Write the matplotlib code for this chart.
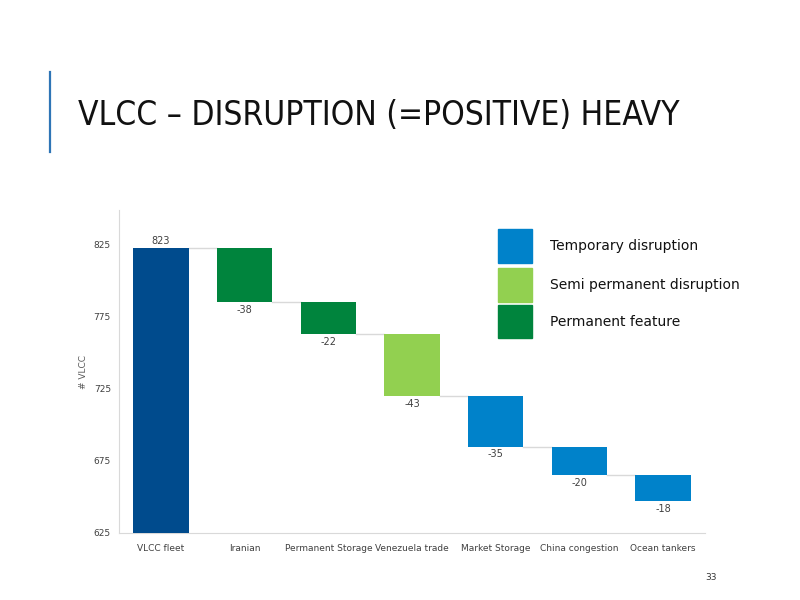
import matplotlib.pyplot as plt
from matplotlib.patches import Rectangle

# Waterfall data
categories = ['VLCC fleet', 'Iranian', 'Permanent Storage', 'Venezuela trade',
              'Market Storage', 'China congestion', 'Ocean tankers']
start_value = 823
deltas = [-38, -22, -43, -35, -20, -18]
kinds = ['fleet', 'permanent', 'permanent', 'semi', 'temporary', 'temporary', 'temporary']

legend_labels = ['Temporary disruption', 'Semi permanent disruption', 'Permanent feature']
legend_kinds = ['temporary', 'semi', 'permanent']

colors = {
    'fleet': '#004B8D',
    'permanent': '#00843D',
    'semi': '#92D050',
    'temporary': '#0082CA',
}

y_ticks = [625, 675, 725, 775, 825]


def main():
    fig = plt.figure(figsize=(8, 6), dpi=100)
    fig.patch.set_facecolor('white')

    # Slide title with accent bar
    fig.add_artist(plt.Line2D([0.0625, 0.0625], [0.747, 0.880], color='#2E75B6', lw=1.6))
    fig.text(0.097, 0.808, 'VLCC \u2013 DISRUPTION (=POSITIVE) HEAVY',
             fontsize=24, family='Liberation Sans Narrow', fontstretch='condensed',
             color='#111111', va='center', ha='left')
    fig.text(0.889, 0.037, '33', fontsize=6.5, color='#333333', ha='center', va='center')

    ax = fig.add_axes([0.149, 0.1117, 0.732, 0.538])

    bar_w = 0.66
    bottoms = [625]
    heights = [start_value - 625]
    level = start_value
    levels = [start_value]
    for d in deltas:
        new_level = level + d
        bottoms.append(new_level)
        heights.append(-d)
        level = new_level
        levels.append(level)

    x = list(range(len(categories)))
    ax.bar(x, heights, bottom=bottoms, width=bar_w,
           color=[colors[k] for k in kinds], zorder=3)

    # Connector lines
    prev_top = start_value
    for i in range(1, len(x)):
        ax.plot([x[i - 1] + bar_w / 2, x[i] - bar_w / 2], [prev_top, prev_top],
                color='#D9D9D9', lw=1, zorder=2)
        prev_top = levels[i]

    # Value labels
    ax.text(x[0], start_value + 1, str(start_value), ha='center', va='bottom',
            fontsize=7, color='#404040')
    for i, d in enumerate(deltas, start=1):
        ax.text(x[i], bottoms[i] - 2, str(d), ha='center', va='top',
                fontsize=7, color='#404040')

    ax.set_xlim(-0.5, len(categories) - 0.5)
    ax.set_ylim(625, 849)
    ax.set_yticks(y_ticks)
    ax.set_xticks(x)
    ax.set_xticklabels(categories)
    ax.tick_params(axis='both', length=0, labelsize=6.5, labelcolor='#404040')
    ax.tick_params(axis='x', pad=8)
    ax.tick_params(axis='y', pad=6)
    ax.set_ylabel('# VLCC', fontsize=6.5, color='#595959', labelpad=4)

    for side in ['top', 'right']:
        ax.spines[side].set_visible(False)
    ax.spines['left'].set_color('#D9D9D9')
    ax.spines['bottom'].set_color('#D9D9D9')

    # Legend as colour squares
    sq_x, sq_w, sq_h = 0.6225, 0.0425, 0.056
    sq_tops = [0.618, 0.553, 0.492]
    for top, label, kind in zip(sq_tops, legend_labels, legend_kinds):
        fig.add_artist(Rectangle((sq_x, top - sq_h), sq_w, sq_h,
                                 transform=fig.transFigure, color=colors[kind]))
        fig.text(0.688, top - sq_h / 2, label, fontsize=10, color='#111111',
                 va='center', ha='left')

    fig.savefig('out.png', dpi=100)
    plt.close(fig)


if __name__ == '__main__':
    main()
